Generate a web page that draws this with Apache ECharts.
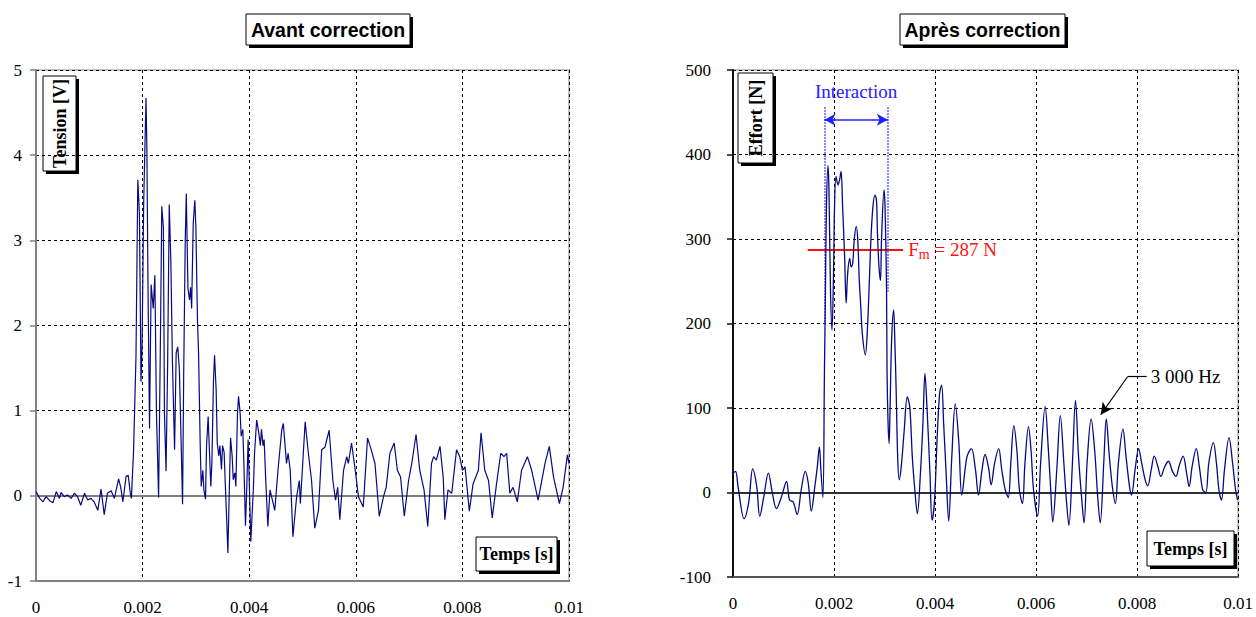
<!DOCTYPE html>
<html>
<head>
<meta charset="utf-8">
<script src="https://cdn.jsdelivr.net/npm/echarts@6/dist/echarts.min.js"></script>
<style>
html,body{margin:0;padding:0;background:#fff;}
#chart{width:1256px;height:617px;}
</style>
</head>
<body>
<div id="chart"></div>
<script>
// ---------- DATA ----------
// Left panel: "Avant correction" — time (ms) and tension (V)
const timeLeftMs = [0.00,0.07,0.13,0.19,0.26,0.32,0.38,0.44,0.47,0.53,0.59,0.66,0.72,0.78,0.84,0.91,0.97,1.03,1.09,1.16,1.22,1.28,1.34,1.41,1.47,1.55,1.59,1.63,1.69,1.73,1.77,1.79,1.83,1.876,1.91,1.94,1.97,1.99,2.02,2.064,2.08,2.10,2.13,2.16,2.20,2.23,2.26,2.30,2.34,2.36,2.39,2.41,2.44,2.47,2.50,2.53,2.56,2.60,2.63,2.66,2.69,2.71,2.75,2.77,2.80,2.82,2.85,2.88,2.90,2.92,2.95,2.98,3.00,3.03,3.05,3.08,3.10,3.13,3.15,3.18,3.20,3.23,3.25,3.28,3.30,3.33,3.35,3.38,3.40,3.43,3.45,3.48,3.50,3.53,3.55,3.58,3.60,3.63,3.65,3.68,3.70,3.73,3.75,3.78,3.80,3.83,3.85,3.88,3.90,3.93,3.95,3.98,4.00,4.03,4.05,4.08,4.10,4.14,4.18,4.21,4.23,4.26,4.28,4.31,4.35,4.39,4.48,4.54,4.61,4.64,4.70,4.73,4.77,4.82,4.89,4.94,4.96,5.05,5.11,5.17,5.23,5.30,5.36,5.42,5.50,5.57,5.62,5.66,5.70,5.77,5.83,5.86,5.92,5.99,6.05,6.14,6.22,6.29,6.36,6.44,6.52,6.57,6.64,6.72,6.78,6.84,6.91,6.99,7.05,7.13,7.20,7.28,7.35,7.42,7.46,7.51,7.58,7.64,7.67,7.73,7.80,7.89,7.95,8.00,8.05,8.13,8.20,8.30,8.35,8.42,8.49,8.56,8.64,8.72,8.78,8.83,8.89,8.95,9.03,9.11,9.22,9.30,9.42,9.55,9.63,9.71,9.82,9.89,9.97,10.00];
const tensionV = [0.05,-0.03,-0.07,-0.01,-0.06,-0.08,0.05,-0.03,0.04,-0.01,0.01,-0.03,0.03,-0.01,-0.11,0.03,-0.05,-0.03,-0.07,-0.17,0.08,-0.22,0.03,0.06,-0.03,0.20,0.10,-0.07,0.23,0.24,0.03,-0.03,0.52,1.64,3.71,3.32,1.34,1.75,3.43,4.67,4.10,2.54,0.79,2.48,2.20,2.59,0.97,-0.02,2.15,3.40,3.15,0.97,0.29,1.56,3.42,2.75,1.56,0.54,1.68,1.75,1.48,0.97,-0.10,1.37,3.00,3.55,2.44,2.30,2.45,2.20,3.20,3.47,3.14,2.05,1.68,0.62,0.11,0.30,0.07,-0.04,0.59,0.93,0.59,0.11,0.39,1.36,1.65,1.24,0.62,0.47,0.59,0.31,0.59,0.51,0.16,-0.32,-0.67,0.16,0.68,0.47,0.19,0.27,0.11,0.97,1.17,0.97,0.70,0.78,0.39,-0.35,0.00,0.66,0.19,-0.54,-0.28,0.11,0.50,0.89,0.74,0.59,0.78,0.59,0.66,0.19,-0.36,0.07,-0.17,0.30,0.77,0.85,0.38,0.50,0.30,-0.48,-0.01,0.18,-0.09,0.87,0.50,0.18,-0.38,-0.17,0.54,0.57,0.77,0.18,-0.05,0.10,-0.28,0.30,0.46,0.38,0.62,0.30,-0.01,-0.13,0.68,0.54,0.38,-0.24,-0.01,0.10,0.50,0.62,0.30,0.22,-0.24,0.18,0.38,0.72,0.30,0.07,-0.36,0.38,0.46,0.42,0.58,0.22,-0.28,0.07,0.03,0.54,0.46,0.30,0.34,-0.18,0.14,0.30,0.74,0.30,0.18,-0.26,0.14,0.50,0.46,0.50,0.03,0.10,-0.07,0.30,0.46,0.30,-0.05,0.38,0.58,0.22,-0.09,0.10,0.48,0.38];

// Right panel: "Après correction" — time (ms) and effort (N)
const timeRightMs = [0.00,0.05,0.10,0.22,0.31,0.39,0.47,0.53,0.61,0.70,0.78,0.86,0.96,1.06,1.12,1.19,1.27,1.35,1.43,1.49,1.55,1.62,1.67,1.71,1.74,1.78,1.81,1.83,1.85,1.88,1.90,1.93,1.96,1.99,2.01,2.04,2.08,2.11,2.14,2.17,2.21,2.24,2.27,2.31,2.34,2.37,2.40,2.44,2.47,2.50,2.53,2.56,2.62,2.66,2.70,2.73,2.77,2.81,2.84,2.86,2.89,2.92,2.94,2.99,3.01,3.04,3.05,3.07,3.09,3.11,3.14,3.18,3.20,3.23,3.26,3.29,3.33,3.39,3.45,3.50,3.55,3.60,3.65,3.71,3.76,3.80,3.84,3.90,3.94,3.99,4.04,4.09,4.13,4.17,4.22,4.27,4.33,4.40,4.47,4.53,4.63,4.72,4.80,4.86,4.93,4.99,5.06,5.11,5.18,5.26,5.32,5.39,5.45,5.50,5.56,5.62,5.67,5.73,5.78,5.85,5.90,5.95,6.03,6.09,6.18,6.24,6.29,6.33,6.41,6.48,6.55,6.60,6.65,6.72,6.78,6.84,6.90,6.95,7.01,7.09,7.16,7.22,7.27,7.34,7.39,7.45,7.51,7.57,7.63,7.72,7.78,7.85,7.89,7.96,8.03,8.09,8.16,8.21,8.28,8.34,8.41,8.47,8.55,8.62,8.70,8.77,8.83,8.91,8.98,9.03,9.09,9.17,9.24,9.30,9.36,9.42,9.51,9.57,9.62,9.67,9.73,9.82,9.89,9.95,9.99];
const effortN = [23,25,7,-31,-12,28,7,-28,-5,23,-1,-19,-5,13,-9,-11,-26,3,25,11,-22,7,31,54,26,-6,141,239,338,387,358,239,192,259,338,374,364,370,380,338,279,224,259,277,267,271,299,315,299,251,220,188,163,192,251,299,338,352,346,307,267,251,299,358,338,239,141,82,58,101,180,216,188,121,42,15,30,74,113,101,42,3,-25,22,82,141,101,22,-33,-9,62,117,127,82,22,-34,40,105,60,-3,42,52,27,-3,27,45,29,9,35,52,27,3,-6,35,79,50,3,-13,35,78,50,3,-28,35,102,54,3,-35,27,91,35,-9,-39,35,109,43,-5,-36,35,87,50,-5,-36,35,87,43,7,-13,35,75,43,7,-3,27,52,35,15,8,27,43,31,19,31,37,25,19,31,43,23,7,31,52,27,3,0,35,59,35,3,-9,27,65,35,3,-9];

// Tick values
const xTicks = [0, 0.002, 0.004, 0.006, 0.008, 0.01];
const yTicksLeft = [-1, 0, 1, 2, 3, 4, 5];
const yTicksRight = [-100, 0, 100, 200, 300, 400, 500];

// Annotations (right panel)
const fmValue = 287;
const fmSpan = [0.00148, 0.00337];
const interactionSpan = [0.00181, 0.003065];
const interactionTop = 456;
const interactionBottoms = [200, 238];
const interactionArrowY = 441;
const hzLabelPoint = [0.00819, 137];
const hzElbowPoint = [0.00781, 137];
const hzArrowTip = [0.00728, 92];

// ---------- BUILD ----------
const leftData = timeLeftMs.map((t, i) => [t / 1000, tensionV[i]]);
const rightData = timeRightMs.map((t, i) => [t / 1000, effortN[i]]);

const serif = "'Liberation Serif', 'Times New Roman', serif";
const sans = "'Liberation Sans', Arial, sans-serif";
const lineColor = '#0a0a80';

function xAxisCfg(gridIndex) {
  return {
    type: 'value', gridIndex: gridIndex,
    min: xTicks[0], max: xTicks[xTicks.length - 1], interval: 0.002,
    axisLine: { onZero: false, lineStyle: { color: gridIndex === 0 ? '#808080' : '#555', width: 2 } },
    axisTick: { show: false },
    axisLabel: {
      margin: 18, color: '#000', fontFamily: serif, fontSize: 17,
      formatter: v => String(parseFloat(v.toFixed(4)))
    },
    splitLine: { show: true, lineStyle: { color: '#000', type: [3, 3], width: 1 } }
  };
}
function yAxisCfg(gridIndex, ticks, margin, axisColor) {
  return {
    type: 'value', gridIndex: gridIndex,
    min: ticks[0], max: ticks[ticks.length - 1], interval: ticks[1] - ticks[0],
    axisLine: { show: true, lineStyle: { color: axisColor, width: 2 } },
    axisTick: { show: true, inside: false, length: 6, lineStyle: { color: axisColor, width: 1.5 } },
    axisLabel: { margin: margin, color: '#000', fontFamily: serif, fontSize: 17 },
    splitLine: { show: true, lineStyle: { color: '#000', type: [3, 3], width: 1 } }
  };
}

function box(x, y, w, h, text, font, rotate) {
  return {
    type: 'group', x: x, y: y, silent: true,
    children: [
      { type: 'rect', shape: { x: 3, y: 3, width: w, height: h }, style: { fill: '#000' } },
      { type: 'rect', shape: { x: 0, y: 0, width: w, height: h }, style: { fill: '#fff', stroke: '#000', lineWidth: 1 } },
      { type: 'text', x: w / 2, y: h / 2, rotation: rotate ? Math.PI / 2 : 0,
        style: { text: text, font: font, fill: '#000', align: 'center', verticalAlign: 'middle' } }
    ]
  };
}

const noSym = ['none', 'none'];

const option = {
  animation: false,
  grid: [
    { left: 36, top: 70, width: 533, height: 511, show: true, borderColor: '#c0c0c0', borderWidth: 2, backgroundColor: '#fff' },
    { left: 733, top: 70, width: 508, height: 507, show: true, borderColor: '#c0c0c0', borderWidth: 2, backgroundColor: '#fff' }
  ],
  xAxis: [xAxisCfg(0), xAxisCfg(1)],
  yAxis: [yAxisCfg(0, yTicksLeft, 14, '#808080'), yAxisCfg(1, yTicksRight, 22, '#111')],
  series: [
    {
      name: 'Tension', type: 'line', xAxisIndex: 0, yAxisIndex: 0,
      data: leftData, showSymbol: false, symbol: 'none',
      lineStyle: { color: lineColor, width: 1.2 }, z: 5,
      markLine: {
        silent: true, symbol: noSym, animation: false,
        lineStyle: { color: '#808080', width: 2, type: 'solid' }, label: { show: false },
        data: [{ yAxis: 0 }]
      }
    },
    {
      name: 'Effort', type: 'line', xAxisIndex: 1, yAxisIndex: 1,
      data: rightData, showSymbol: false, symbol: 'none', smooth: 0.35,
      lineStyle: { color: lineColor, width: 1.3 }, z: 5,
      markLine: {
        silent: true, symbol: noSym, animation: false,
        lineStyle: { color: '#303030', width: 2, type: 'solid' }, label: { show: false },
        data: [{ yAxis: 0 }]
      }
    },
    { // Fm line
      name: 'Fm', type: 'line', xAxisIndex: 1, yAxisIndex: 1, data: [], z: 6,
      markLine: {
        silent: true, symbol: noSym, animation: false,
        lineStyle: { color: '#ff1010', width: 2, type: 'solid' },
        label: {
          show: true, position: 'end', distance: 5,
          formatter: '{a|F}{b|m}{a| = 287 N}',
          rich: {
            a: { fontFamily: serif, fontSize: 19, color: '#ff1010', lineHeight: 24 },
            b: { fontFamily: serif, fontSize: 14, color: '#ff1010', padding: [10, 0, 0, 0] }
          }
        },
        data: [[{ coord: [fmSpan[0], fmValue] }, { coord: [fmSpan[1], fmValue] }]]
      }
    },
    { // Interaction bounds
      name: 'InteractionBounds', type: 'line', xAxisIndex: 1, yAxisIndex: 1, data: [], z: 4,
      markLine: {
        silent: true, symbol: noSym, animation: false,
        lineStyle: { color: '#3030ff', width: 1.5, type: [1.5, 1.5] }, label: { show: false },
        data: [
          [{ coord: [interactionSpan[0], interactionTop] }, { coord: [interactionSpan[0], interactionBottoms[0]] }],
          [{ coord: [interactionSpan[1], interactionTop] }, { coord: [interactionSpan[1], interactionBottoms[1]] }]
        ]
      }
    },
    { // Interaction arrow
      name: 'InteractionArrow', type: 'line', xAxisIndex: 1, yAxisIndex: 1, data: [], z: 6,
      markLine: {
        silent: true, symbol: ['arrow', 'arrow'], symbolSize: [9, 11], animation: false,
        lineStyle: { color: '#2020ff', width: 1.5, type: 'solid' },
        label: {
          show: true, position: 'insideMiddleTop', distance: 19,
          formatter: 'Interaction', fontFamily: serif, fontSize: 19, color: '#2020ff'
        },
        data: [[{ coord: [interactionSpan[0], interactionArrowY] }, { coord: [interactionSpan[1], interactionArrowY] }]]
      }
    },
    { // 3 000 Hz callout
      name: 'Hz', type: 'line', xAxisIndex: 1, yAxisIndex: 1, data: [], z: 6,
      markLine: {
        silent: true, animation: false, symbolSize: [9, 12],
        lineStyle: { color: '#000', width: 1.2, type: 'solid' },
        data: [
          [{ coord: hzLabelPoint, symbol: 'none',
             label: { show: true, position: 'start', distance: 4, formatter: '3 000 Hz', fontFamily: serif, fontSize: 19, color: '#000' } },
           { coord: hzElbowPoint, symbol: 'none' }],
          [{ coord: hzElbowPoint, symbol: 'none', label: { show: false } },
           { coord: hzArrowTip, symbol: 'arrow', label: { show: false } }]
        ]
      }
    }
  ],
  graphic: [
    box(246, 14, 164, 31, 'Avant correction', 'bold 19.5px ' + sans, false),
    box(900, 14, 165, 31, 'Après correction', 'bold 19.5px ' + sans, false),
    box(43, 76, 33, 95, 'Tension [V]', 'bold 18px ' + serif, true),
    box(738, 73, 35, 90, 'Effort [N]', 'bold 18px ' + serif, true),
    box(476, 537, 81, 34, 'Temps [s]', 'bold 18px ' + serif, false),
    box(1147, 531, 87, 35, 'Temps [s]', 'bold 18px ' + serif, false)
  ]
};

const chart = echarts.init(document.getElementById('chart'), null, { renderer: 'svg' });
chart.setOption(option);
</script>
</body>
</html>
